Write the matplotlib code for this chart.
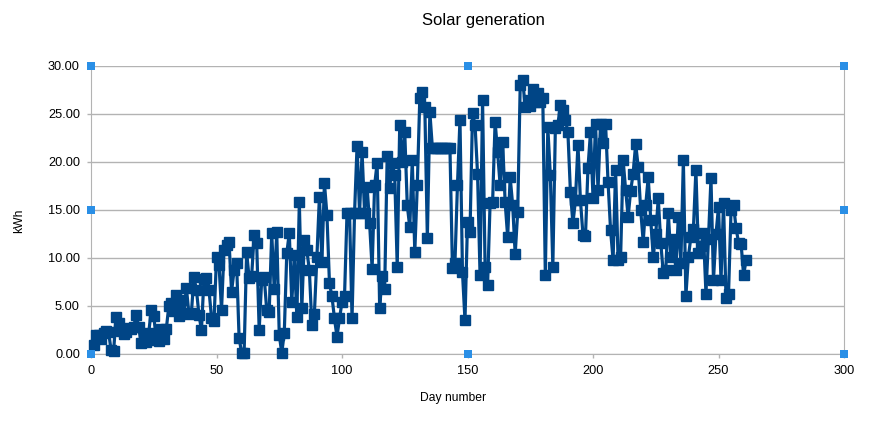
import numpy as np
import matplotlib
matplotlib.use('Agg')
import matplotlib.pyplot as plt

# daily solar generation (kWh)
seg_a = [0.9, 2.0, 2.0, 1.6, 2.2, 2.4, 2.3, 0.4, 0.3, 3.9,
         3.2, 2.4, 2.1, 2.3, 2.7, 2.6, 2.8, 4.1, 2.8, 1.1,
         1.7, 1.3, 2.2, 4.6, 4.0, 1.5, 1.4, 2.6, 1.6, 2.6,
         5.0, 5.3, 4.5, 6.1, 4.0, 5.6, 4.3, 6.9, 4.2, 4.3,
         8.0]
seg_b = [6.7, 4.1, 2.5, 7.8, 7.9, 6.7, 3.8, 3.4, 10.1, 9.3,
         4.6, 10.8, 11.4, 11.7, 6.5, 8.7, 9.5, 1.7, 0.1, 0.1,
         10.6, 7.9, 8.1, 12.4, 11.6, 2.5, 7.7, 8.0, 4.6, 4.4,
         12.6, 6.8, 12.7, 2.0, 0.1, 2.2, 10.5, 12.6, 5.4, 10.3,
         3.9]
seg_c = [15.8, 4.8, 11.9, 10.8, 8.7, 3.0, 4.2, 10.1, 16.4, 9.6,
         17.8, 14.5, 7.4, 6.0, 3.7, 1.8, 3.7, 5.4, 6.0, 14.7,
         14.7, 3.7, 14.7, 21.7, 14.7, 21.0, 14.7, 17.4, 13.6, 8.9,
         17.6, 19.9, 4.8, 8.1, 6.8, 20.6, 17.3, 19.9, 18.6, 9.1,
         23.9, 20.0]
seg_d = [23.1, 15.5, 13.2, 20.2, 10.6, 17.6, 26.7, 27.3, 25.7, 12.1,
         25.2, 21.5, 21.5, 21.5, 21.5, 21.5, 21.5, 21.5, 21.5, 9.0,
         9.5, 17.6, 24.4, 8.5, 3.5, 13.8, 12.7, 25.1, 23.9, 18.8,
         8.2, 26.5, 9.1, 7.2, 15.7, 15.8, 24.2, 21.0, 17.6, 22.1,
         15.8, 12.2, 18.4, 15.5, 10.4]
seg_e = [14.8, 28.0, 28.5, 25.7, 26.5, 25.8, 27.6, 26.3, 27.2, 26.3,
         26.7, 8.2, 23.6, 18.6, 9.1, 23.5, 23.9, 25.9, 25.4, 24.4,
         23.1, 16.9, 13.6, 16.0, 21.8, 16.0, 12.4, 12.3, 19.4, 23.1,
         16.3, 24.0, 17.1, 24.0, 22.0, 24.0, 17.9, 12.9, 9.8]
seg_f = [19.2, 9.8, 10.1, 20.2, 17.1, 14.3, 17.0, 18.8, 21.9, 19.5,
         15.0, 11.7, 15.5, 18.4, 14.0, 10.1, 12.5, 16.2, 11.6, 8.4,
         8.8, 14.7, 10.1, 12.0, 8.8, 14.3, 9.5, 20.2, 6.0, 10.1,
         12.2, 13.0, 19.2, 10.5, 11.2, 12.6, 6.3, 12.0, 18.3, 7.7,
         12.5, 15.3, 7.7, 15.7, 5.8, 6.3, 15.0, 15.5, 13.1, 11.6,
         11.5, 8.2, 9.8]

kwh = seg_a + seg_b + seg_c + seg_d + seg_e + seg_f
days = np.arange(1, len(kwh) + 1)

x_ticks = [0, 50, 100, 150, 200, 250, 300]
y_ticks = [0, 5, 10, 15, 20, 25, 30]

plt.rcParams['font.family'] = ['Liberation Sans', 'DejaVu Sans']

fig = plt.figure(figsize=(8.71, 4.24), dpi=100)
ax = fig.add_axes([91/871, 70/424, 753/871, 288/424])

ax.plot(days, kwh, color='#004586', linewidth=2.3, marker='s',
        markersize=6.5, markerfacecolor='#004586', markeredgecolor='#004586',
        zorder=3, clip_on=False)

ax.set_xlim(0, 300)
ax.set_ylim(0, 30)
ax.set_xticks(x_ticks)
ax.set_yticks(y_ticks)
ax.set_yticklabels(['%.2f' % v for v in y_ticks])
ax.yaxis.grid(True, color='#b3b3b3', linewidth=1)
ax.set_axisbelow(True)
for side in ['left', 'right']:
    ax.spines[side].set_color('#b3b3b3')
ax.spines['top'].set_visible(False)
ax.spines['bottom'].set_color('#b3b3b3')
ax.tick_params(axis='both', colors='#b3b3b3', length=3, width=1,
               labelcolor='black', labelsize=9.2)
ax.tick_params(axis='x', pad=5)
ax.tick_params(axis='y', pad=5)

fig.text(483/871, 1 - 20/424, 'Solar generation', ha='center', va='center', fontsize=12)
fig.text(453/871, 1 - 398/424, 'Day number', ha='center', va='center', fontsize=8.7)
fig.text(19/871, 1 - 221/424, 'kWh', ha='center', va='center', fontsize=8.7, rotation=90)

# selection handles around the plot area
hx = [91, 468, 844]
hy = [66, 210, 354]
for px in hx:
    for py in hy:
        if px == 468 and py == 210:
            continue
        fig.patches.append(plt.Rectangle(((px - 4) / 871, 1 - (py + 4) / 424),
                                         8 / 871, 8 / 424, transform=fig.transFigure,
                                         facecolor='#2a8fe6', edgecolor='none', zorder=10))

plt.savefig('out.png', dpi=100)
